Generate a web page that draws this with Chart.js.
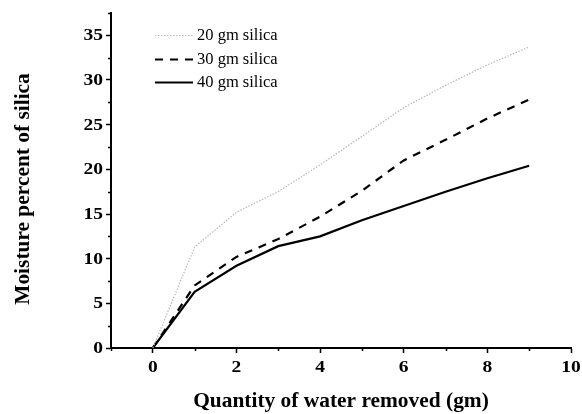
<!DOCTYPE html>
<html>
<head>
<meta charset="utf-8">
<script src="https://cdn.jsdelivr.net/npm/chart.js@4"></script>
<style>
  html, body { margin: 0; padding: 0; background: #fff; }
  #wrap { width: 582px; height: 414px; }
</style>
</head>
<body>
<div id="wrap"><canvas id="chart"></canvas></div>
<script>
const xValues = [0, 1, 2, 3, 4, 5, 6, 7, 8, 9];
const silica20 = [0, 11.3, 15.2, 17.5, 20.5, 23.7, 26.9, 29.4, 31.7, 33.7];
const silica30 = [0, 7.0, 10.2, 12.2, 14.7, 17.6, 21.0, 23.3, 25.7, 27.8];
const silica40 = [0, 6.3, 9.2, 11.4, 12.5, 14.3, 15.9, 17.5, 19.0, 20.4];
const seriesNames = ['20 gm silica', '30 gm silica', '40 gm silica'];
const xTickLabels = [0, 2, 4, 6, 8, 10];
const yTickLabels = [0, 5, 10, 15, 20, 25, 30, 35];

const serif = "'Liberation Serif', 'Times New Roman', serif";

function pts(ys) {
    return xValues.map((x, i) => ({ x, y: ys[i] }));
}

// text squeezed wider, like the original's bold axis lettering
function wideText(ctx, text, x, y, sx, align) {
    ctx.save();
    ctx.translate(x, y);
    ctx.scale(sx, 1);
    ctx.textAlign = align;
    ctx.fillText(text, 0, 0);
    ctx.restore();
}

// minor ticks, tick labels, axis titles and the legend
const decor = {
    id: 'decor',
    afterDraw(chart) {
        const ctx = chart.ctx;
        const xs = chart.scales.x, ys = chart.scales.y;
        const area = chart.chartArea;
        ctx.save();
        ctx.strokeStyle = '#000';
        ctx.lineWidth = 1.5;
        for (let v = -1; v <= 10; v++) {
            if (xTickLabels.includes(v)) continue;
            const px = Math.round(xs.getPixelForValue(v)) + 0.5;
            ctx.beginPath();
            ctx.moveTo(px, area.bottom);
            ctx.lineTo(px, area.bottom + 3);
            ctx.stroke();
        }
        for (let v = 2.5; v <= 37.5; v += 5) {
            const py = Math.round(ys.getPixelForValue(v)) + 0.5;
            ctx.beginPath();
            ctx.moveTo(area.left, py);
            ctx.lineTo(area.left - 3, py);
            ctx.stroke();
        }

        ctx.fillStyle = '#000';
        ctx.textBaseline = 'middle';
        ctx.font = 'bold 16px ' + serif;
        xTickLabels.forEach(v => {
            wideText(ctx, String(v), xs.getPixelForValue(v), area.bottom + 20, 1.22, 'center');
        });
        yTickLabels.forEach(v => {
            wideText(ctx, String(v), area.left - 8, ys.getPixelForValue(v) + 1, 1.22, 'right');
        });

        ctx.font = 'bold 20px ' + serif;
        wideText(ctx, 'Quantity of water removed (gm)', (area.left + area.right) / 2, 402, 1.07, 'center');
        ctx.save();
        ctx.translate(24, 189);
        ctx.rotate(-Math.PI / 2);
        wideText(ctx, 'Moisture percent of silica', 0, 0, 1.07, 'center');
        ctx.restore();
        ctx.restore();

        ctx.save();
        const rows = [35, 59, 82];
        chart.data.datasets.forEach((ds, i) => {
            const y = rows[i];
            ctx.strokeStyle = ds.borderColor;
            ctx.lineWidth = ds.borderWidth;
            ctx.setLineDash(ds.borderDash || []);
            ctx.beginPath();
            ctx.moveTo(155, y + 0.5);
            ctx.lineTo(193, y + 0.5);
            ctx.stroke();
            ctx.setLineDash([]);
            ctx.fillStyle = '#000';
            ctx.font = '16.5px ' + serif;
            ctx.textAlign = 'left';
            ctx.textBaseline = 'middle';
            ctx.fillText(ds.label, 197, y + 1);
        });
        ctx.restore();
    }
};

new Chart(document.getElementById('chart'), {
    type: 'line',
    data: {
        datasets: [
            { label: seriesNames[0], data: pts(silica20), borderColor: '#b8b8b8', borderWidth: 1.2, borderDash: [1.5, 1.5] },
            { label: seriesNames[1], data: pts(silica30), borderColor: '#000', borderWidth: 2.2, borderDash: [8, 7] },
            { label: seriesNames[2], data: pts(silica40), borderColor: '#000', borderWidth: 2.2 },
        ],
    },
    options: {
        responsive: true, maintainAspectRatio: false, animation: false,
        layout: { padding: { top: 13, right: 11, left: 0, bottom: 0 } },
        elements: { point: { radius: 0 }, line: { tension: 0, fill: false } },
        plugins: { legend: { display: false }, tooltip: { enabled: false } },
        scales: {
            x: {
                type: 'linear', min: -1, max: 10,
                afterBuildTicks: s => { s.ticks = xTickLabels.map(v => ({ value: v })); },
                afterFit: s => { s.height = 66; },
                border: { color: '#000', width: 2 },
                grid: { drawOnChartArea: false, drawTicks: true, tickLength: 5, tickWidth: 1.5, tickColor: '#000' },
                ticks: { display: false },
            },
            y: {
                type: 'linear', min: 0, max: 37.5,
                afterBuildTicks: s => { s.ticks = yTickLabels.map(v => ({ value: v })); },
                afterFit: s => { s.width = 111; },
                border: { color: '#000', width: 2 },
                grid: { drawOnChartArea: false, drawTicks: true, tickLength: 5, tickWidth: 1.5, tickColor: '#000' },
                ticks: { display: false },
            },
        },
    },
    plugins: [decor],
});
</script>
</body>
</html>
